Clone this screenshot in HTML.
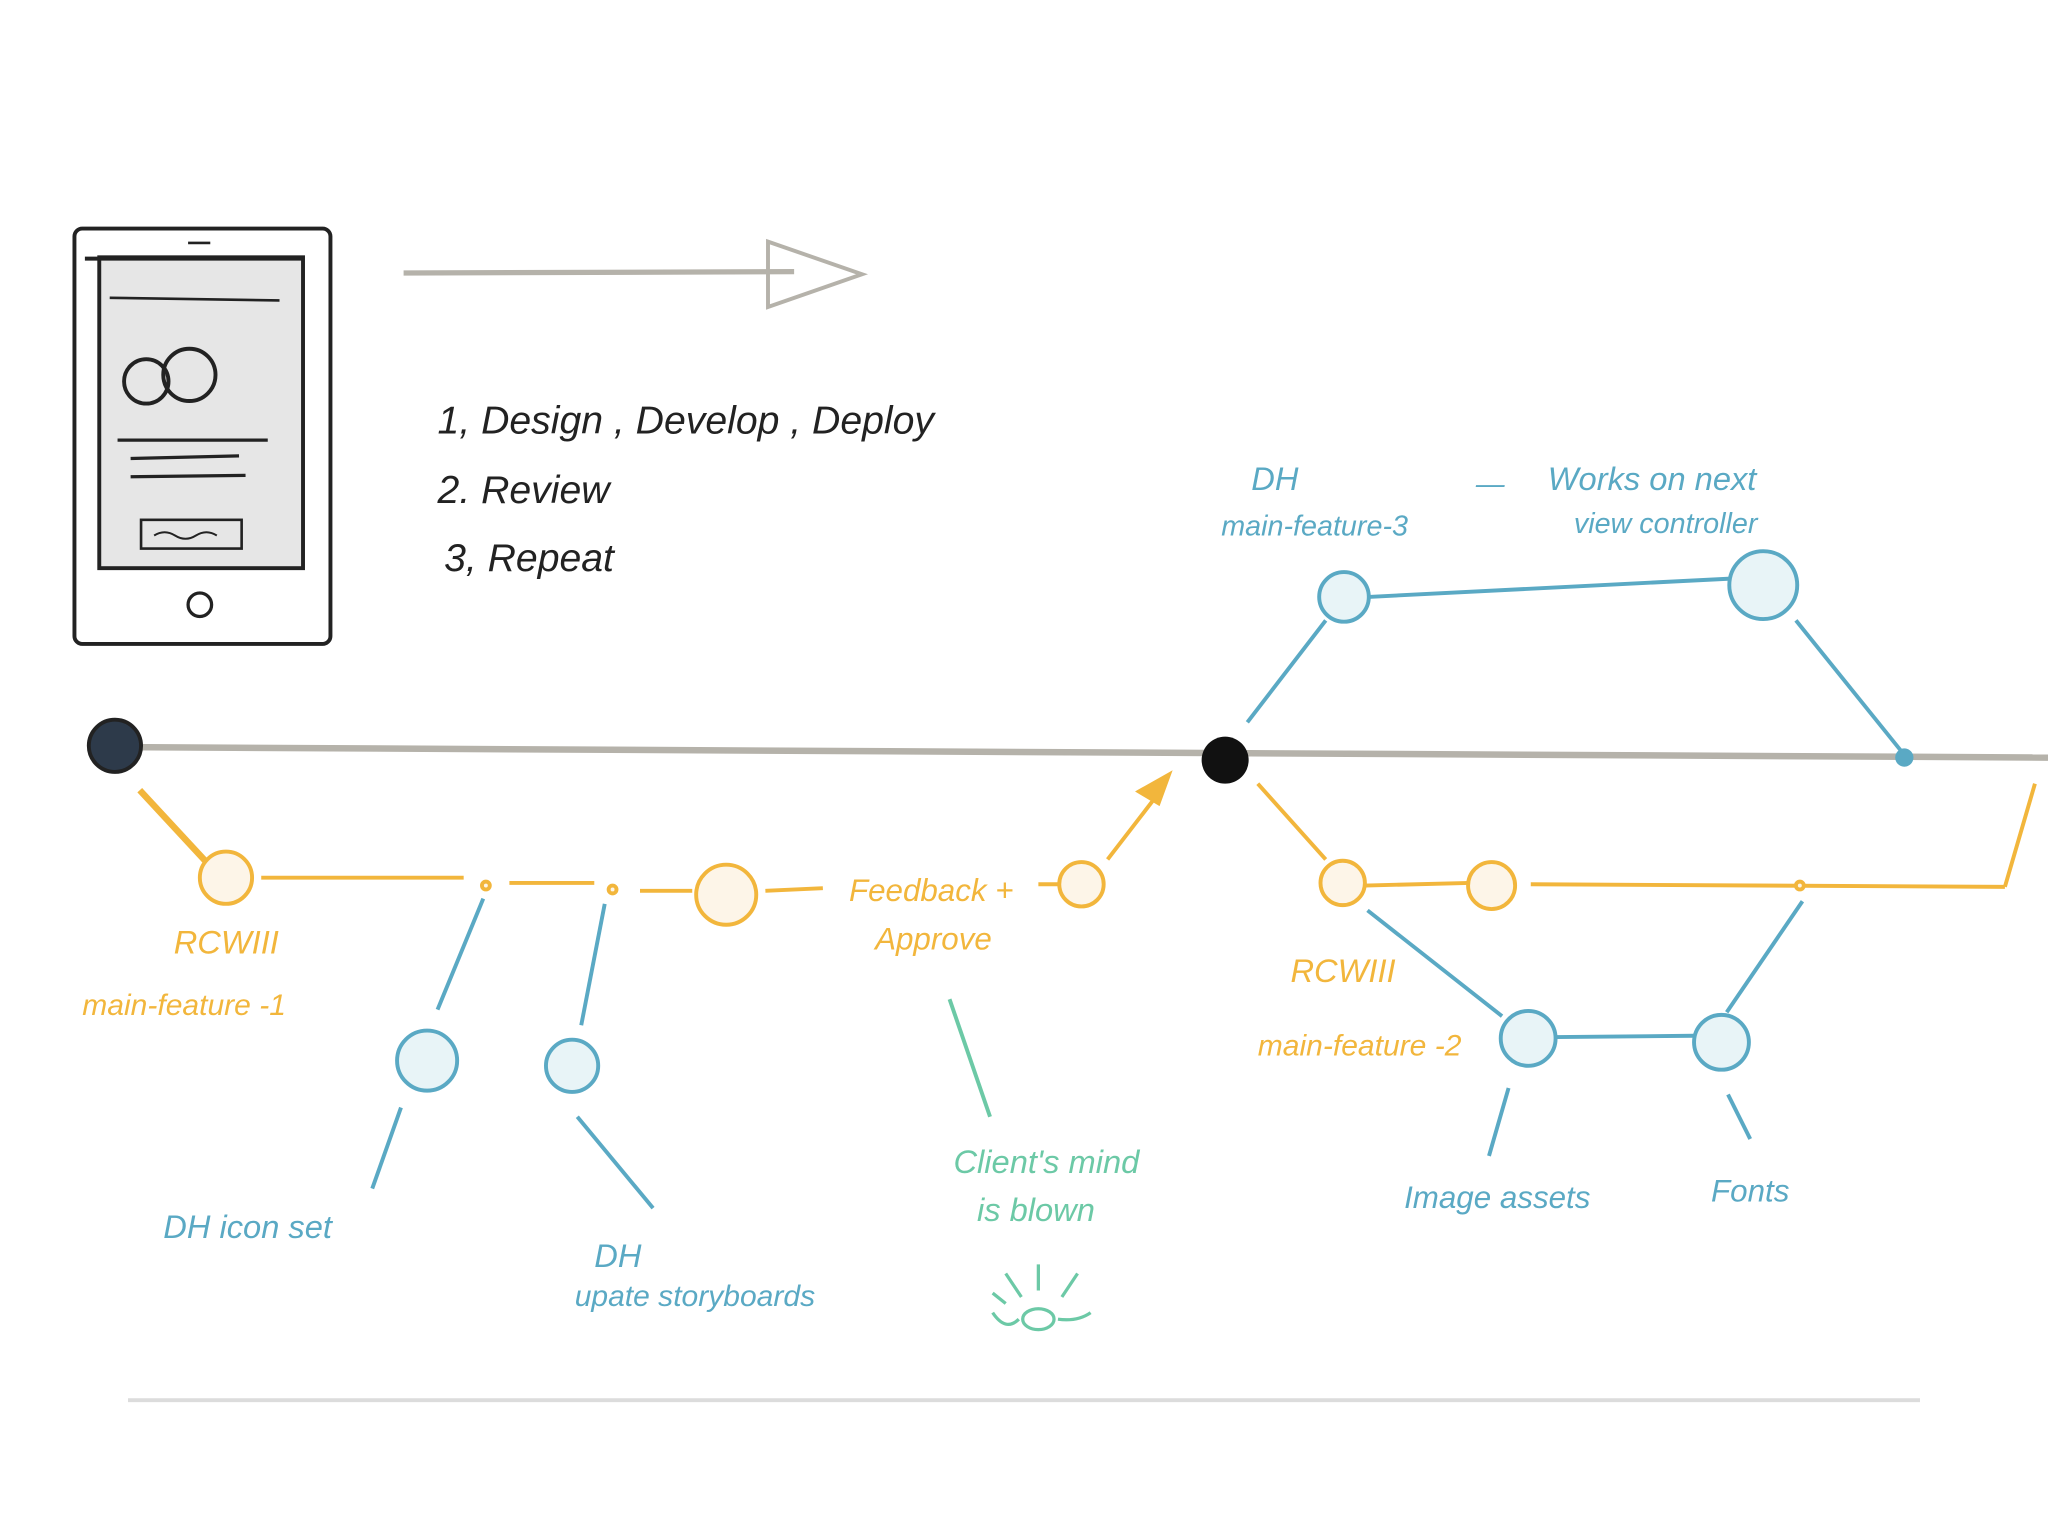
<!DOCTYPE html>
<html><head><meta charset="utf-8"><style>
html,body{margin:0;padding:0;background:#fff;}
svg{display:block;}
text{font-family:"Liberation Sans",sans-serif;font-style:italic;}
</style></head><body>
<svg width="2048" height="1536" viewBox="0 0 1568 1176" xmlns="http://www.w3.org/2000/svg">
<rect width="1568" height="1176" fill="#fff"/>
<!-- phone -->
<rect x="57" y="175" width="196" height="318" rx="6" fill="#fff" stroke="#222" stroke-width="3"/>
<rect x="76" y="197" width="156" height="238" fill="#e6e6e6" stroke="#222" stroke-width="3"/>
<line x1="65" y1="198" x2="232" y2="198" stroke="#222" stroke-width="3"/>
<line x1="144" y1="186" x2="161" y2="186" stroke="#222" stroke-width="2"/>
<line x1="84" y1="228" x2="214" y2="230" stroke="#222" stroke-width="2"/>
<circle cx="112" cy="292" r="17" fill="none" stroke="#222" stroke-width="3"/>
<circle cx="145" cy="287" r="20" fill="none" stroke="#222" stroke-width="3"/>
<line x1="90" y1="337" x2="205" y2="337" stroke="#222" stroke-width="2.5"/>
<line x1="100" y1="351" x2="183" y2="349" stroke="#222" stroke-width="2.5"/>
<line x1="100" y1="365" x2="188" y2="364" stroke="#222" stroke-width="2.5"/>
<rect x="108" y="398" width="77" height="22" fill="none" stroke="#222" stroke-width="2"/>
<path d="M118 410 q8 -5 16 0 t16 0 t16 0" fill="none" stroke="#222" stroke-width="1.5"/>
<circle cx="153" cy="463" r="9" fill="none" stroke="#222" stroke-width="2.5"/>
<!-- arrow -->
<line x1="309" y1="209" x2="608" y2="208" stroke="#b5b2aa" stroke-width="4"/>
<path d="M588 185 L660 210 L588 235 Z" fill="none" stroke="#b5b2aa" stroke-width="3"/>
<!-- list text -->
<g fill="#222" font-size="30">
<text x="335" y="332">1, Design , Develop , Deploy</text>
<text x="335" y="385">2. Review</text>
<text x="340" y="437">3, Repeat</text>
</g>
<!-- main line -->
<line x1="90" y1="572" x2="1568" y2="580" stroke="#b5b2aa" stroke-width="5"/>
<circle cx="88" cy="571" r="20" fill="#2d3a4a" stroke="#222" stroke-width="3"/>
<circle cx="938" cy="582" r="18" fill="#111"/>
<circle cx="1458" cy="580" r="7" fill="#5aa9c4"/>
<!-- blue top branch -->
<g stroke="#5aa9c4" stroke-width="3" fill="#e8f4f7">
<line x1="955" y1="553" x2="1015" y2="475" />
<line x1="1048" y1="457" x2="1325" y2="443"/>
<line x1="1375" y1="475" x2="1458" y2="578"/>
<circle cx="1029" cy="457" r="19"/>
<circle cx="1350" cy="448" r="26"/>
</g>
<g fill="#5aa9c4" font-size="25">
<text x="958" y="375">DH</text>
<text x="935" y="410" font-size="22">main-feature-3</text>
<text x="1130" y="378" font-size="22">—</text>
<text x="1185" y="375">Works on next</text>
<text x="1205" y="408" font-size="22">view controller</text>
</g>
<!-- orange branch 1 -->
<g stroke="#f2b63c" stroke-width="3" fill="#fdf5e8">
<line x1="107" y1="605" x2="158" y2="660" stroke-width="5"/>
<line x1="200" y1="672" x2="355" y2="672"/>
<line x1="390" y1="676" x2="455" y2="676"/>
<line x1="490" y1="682" x2="530" y2="682"/>
<line x1="586" y1="682" x2="630" y2="680"/>
<line x1="795" y1="677" x2="810" y2="677"/>
<line x1="848" y1="658" x2="885" y2="610"/>
<path d="M872 606 L895 593 L887 615 Z" fill="#f2b63c"/>
<circle cx="173" cy="672" r="20"/>
<circle cx="372" cy="678" r="3"/>
<circle cx="469" cy="681" r="3"/>
<circle cx="556" cy="685" r="23"/>
<circle cx="828" cy="677" r="17"/>
</g>
<g fill="#f2b63c" font-size="25">
<text x="133" y="730">RCWIII</text>
<text x="63" y="777" font-size="23">main-feature -1</text>
<text x="650" y="690" font-size="24">Feedback +</text>
<text x="670" y="727" font-size="24">Approve</text>
</g>
<!-- blue subcommits 1 -->
<g stroke="#5aa9c4" stroke-width="3" fill="#e8f4f7">
<line x1="370" y1="688" x2="335" y2="773"/>
<line x1="463" y1="692" x2="445" y2="785"/>
<line x1="307" y1="848" x2="285" y2="910"/>
<line x1="442" y1="855" x2="500" y2="925"/>
<circle cx="327" cy="812" r="23"/>
<circle cx="438" cy="816" r="20"/>
</g>
<g fill="#5aa9c4" font-size="25">
<text x="125" y="948">DH icon set</text>
<text x="455" y="970">DH</text>
<text x="440" y="1000" font-size="23">upate storyboards</text>
</g>
<!-- green -->
<line x1="727" y1="765" x2="758" y2="855" stroke="#6cc9a6" stroke-width="3"/>
<g fill="#6cc9a6" font-size="25">
<text x="730" y="898">Client's mind</text>
<text x="748" y="935">is blown</text>
</g>
<g stroke="#6cc9a6" stroke-width="2.5" fill="none">
<ellipse cx="795" cy="1010" rx="12" ry="8"/>
<path d="M760 1005 q10 15 20 5 M810 1010 q15 2 25 -5 M770 975 l12 18 M795 968 l0 20 M825 975 l-12 18 M760 990 l10 8"/>
</g>
<!-- orange branch 2 -->
<g stroke="#f2b63c" stroke-width="3" fill="#fdf5e8">
<line x1="963" y1="600" x2="1015" y2="658"/>
<line x1="1045" y1="678" x2="1125" y2="676"/>
<line x1="1172" y1="677" x2="1535" y2="679"/>
<line x1="1535" y1="679" x2="1558" y2="600"/>
<circle cx="1028" cy="676" r="17"/>
<circle cx="1142" cy="678" r="18"/>
<circle cx="1378" cy="678" r="3"/>
</g>
<g fill="#f2b63c" font-size="25">
<text x="988" y="752">RCWIII</text>
<text x="963" y="808" font-size="23">main-feature -2</text>
</g>
<!-- blue subcommits 2 -->
<g stroke="#5aa9c4" stroke-width="3" fill="#e8f4f7">
<line x1="1047" y1="697" x2="1150" y2="778"/>
<line x1="1192" y1="794" x2="1297" y2="793"/>
<line x1="1322" y1="775" x2="1380" y2="690"/>
<line x1="1155" y1="833" x2="1140" y2="885"/>
<line x1="1323" y1="838" x2="1340" y2="872"/>
<circle cx="1170" cy="795" r="21"/>
<circle cx="1318" cy="798" r="21"/>
</g>
<g fill="#5aa9c4" font-size="24">
<text x="1075" y="925">Image assets</text>
<text x="1310" y="920">Fonts</text>
</g>
<!-- bottom line -->
<line x1="98" y1="1072" x2="1470" y2="1072" stroke="#dcdcdc" stroke-width="3"/>
</svg>
</body></html>
